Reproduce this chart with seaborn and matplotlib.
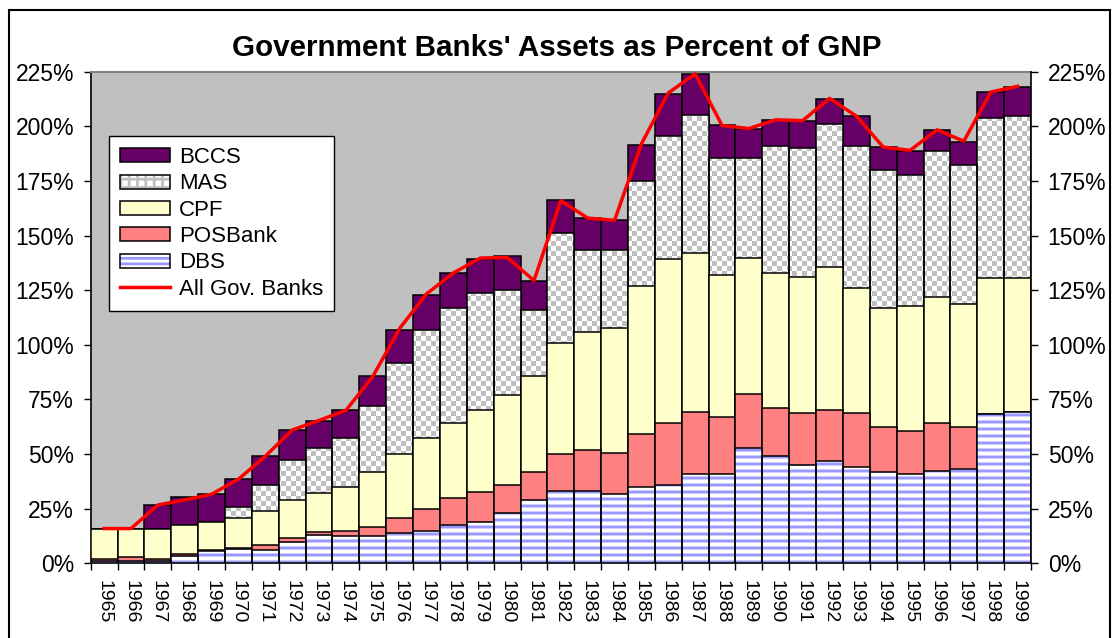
import numpy as np
import seaborn as sns
import matplotlib.pyplot as plt
from matplotlib.patches import Patch, PathPatch, Rectangle
from matplotlib.lines import Line2D
from matplotlib.path import Path
from matplotlib.legend_handler import HandlerTuple

plt.rcParams['font.family'] = ['Liberation Sans', 'DejaVu Sans']
plt.rcParams['hatch.linewidth'] = 2.0

years = [str(y) for y in range(1965, 2000)]

# percent of GNP
dbs = [1.0, 1.0, 1.0, 3.5, 5.4, 6.6, 6.3, 9.8, 13.0, 12.5, 12.5, 13.7, 14.7, 17.3, 19.1, 23.2, 29.0, 33.2,
       33.2, 31.6, 34.7, 35.7, 40.8, 40.8, 52.6, 49.2, 44.9, 46.9, 44.3, 41.6, 40.8, 42.3, 43.1, 68.3, 69.1]
posbank = [1.0, 1.8, 0.8, 0.9, 0.5, 0.6, 2.1, 1.8, 1.2, 2.3, 4.3, 7.2, 10.0, 12.8, 13.4, 12.7, 12.6, 16.8,
           18.7, 19.1, 24.4, 28.5, 28.6, 26.0, 24.9, 21.7, 23.7, 23.4, 24.3, 20.9, 19.8, 21.9, 19.4, 0, 0]
cpf = [13.9, 13.1, 13.8, 13.0, 13.0, 13.4, 15.7, 17.4, 18.2, 20.2, 24.8, 29.1, 32.7, 34.3, 37.5, 40.9, 44.2,
       50.8, 54.1, 56.9, 67.7, 75.1, 72.5, 65.2, 62.1, 61.9, 62.6, 65.1, 57.4, 54.5, 57.2, 57.9, 56.2, 62.1, 61.3]
mas = [0, 0, 0, 0, 0, 5.2, 11.6, 18.4, 20.2, 22.3, 30.2, 41.7, 49.4, 52.5, 53.6, 48.3, 30.1, 50.2, 37.6,
       36.0, 48.4, 56.1, 63.4, 53.5, 45.9, 58.3, 59.0, 65.8, 65.0, 63.1, 60.0, 66.4, 63.4, 73.4, 74.2]
bccs = [0, 0, 11.1, 13.0, 12.7, 12.7, 13.6, 13.6, 12.5, 12.8, 14.1, 15.2, 16.0, 16.0, 15.7, 15.5, 13.5, 15.4,
        14.4, 13.4, 16.4, 19.5, 18.8, 15.2, 13.4, 11.9, 12.1, 11.3, 13.7, 10.4, 10.9, 9.6, 10.7, 11.9, 13.4]
all_gov = [15.9, 15.9, 26.7, 29.0, 31.6, 38.5, 49.0, 61.0, 65.4, 70.0, 85.5, 107.5, 123.3, 132.9, 139.7,
           140.0, 129.4, 166.0, 158.0, 157.0, 192.0, 215.3, 224.0, 200.4, 199.0, 203.0, 202.6, 212.8,
           204.7, 190.5, 189.0, 198.4, 193.2, 215.7, 218.3]

c_bccs = '#660066'
c_cpf = '#ffffcc'
c_pos = '#ff8080'
c_dbs = '#9999ff'
c_mas = '#c0c0c0'

# stacked tops
top_dbs = np.array(dbs)
top_pos = top_dbs + np.array(posbank)
top_cpf = top_pos + np.array(cpf)
top_mas = top_cpf + np.array(mas)
top_bccs = top_mas + np.array(bccs)

fig = plt.figure(figsize=(11.14, 6.38), dpi=100)
ax = fig.add_axes([0.0814, 0.1171, 0.8441, 0.7705])
ax.set_facecolor('#c0c0c0')

n = len(years)
ymax = 225


def bars(values, color, z):
    before = len(ax.patches)
    sns.barplot(x=years, y=values, color=color, saturation=1, width=1, edgecolor='black',
                linewidth=1.1, zorder=z, errorbar=None, ax=ax)
    return ax.patches[before:]


def clip_for(patches):
    paths = [p.get_path().transformed(p.get_patch_transform()) for p in patches]
    return PathPatch(Path.make_compound_path(*paths), transform=ax.transData,
                     facecolor='none', edgecolor='none')


bars(top_bccs, c_bccs, 2)
mas_p = bars(top_mas, 'white', 3)
for p in mas_p:
    p.set_facecolor('none')
bars(top_cpf, c_cpf, 4)
bars(top_pos, c_pos, 5)
dbs_p = bars(top_dbs, 'white', 6)
for p in dbs_p:
    p.set_facecolor('none')

ax.set_xlim(-0.5, n - 0.5)
ax.set_ylim(0, ymax)

# pixel patterns for MAS (checker) and DBS (stripes)
bb = ax.get_window_extent(fig.canvas.get_renderer())
w, h = int(round(bb.width)), int(round(bb.height))
yy, xx = np.mgrid[0:h, 0:w]
checker = np.ones((h, w, 3))
checker[((xx // 5 + yy // 5) % 2) == 0] = 0.75
stripes = np.ones((h, w, 3))
blue = np.array([0.6, 0.6, 1.0])
light = np.array([0.8, 0.8, 1.0])
ph = yy % 7
stripes[(ph == 0) | (ph == 1)] = blue
stripes[(ph == 2) | (ph == 6)] = light

im1 = ax.imshow(checker, extent=(-0.5, n - 0.5, 0, ymax), aspect='auto', interpolation='nearest', zorder=2.5)
im1.set_clip_path(clip_for(mas_p))
im2 = ax.imshow(stripes, extent=(-0.5, n - 0.5, 0, ymax), aspect='auto', interpolation='nearest', zorder=5.5)
im2.set_clip_path(clip_for(dbs_p))

sns.lineplot(x=np.arange(n), y=all_gov, color='#ff0000', linewidth=2.5, zorder=7, ax=ax)

ax.set_xlim(-0.5, n - 0.5)
ax.set_ylim(0, ymax)
yt = list(range(0, 226, 25))
ylab = [f'{v}%' for v in yt]
ax.set_yticks(yt)
ax.set_yticklabels(ylab, fontsize=16.5)
ax.set_xticks(range(n))
ax.set_xticklabels(years, rotation=-90, fontsize=14)
ax.set_xticks(np.arange(-0.5, n, 1), minor=True)
ax.tick_params(axis='x', which='major', length=0, pad=12)
ax.tick_params(axis='x', which='minor', length=5, width=1, color='black', direction='out')
ax.tick_params(axis='y', length=5, width=1, color='black', direction='out', pad=7)
ax.set_xlabel('')
ax.set_ylabel('')
ax.grid(False)
for s in ['left', 'bottom']:
    ax.spines[s].set_color('black')
    ax.spines[s].set_linewidth(1.2)
ax.spines['top'].set_color('#808080')
ax.spines['top'].set_linewidth(1.5)
ax.spines['right'].set_visible(False)

ax2 = ax.twinx()
ax2.set_ylim(0, ymax)
ax2.set_yticks(yt)
ax2.set_yticklabels(ylab, fontsize=16.5)
ax2.tick_params(axis='y', length=5, width=1, color='black', direction='out', pad=7)
for s in ['left', 'bottom', 'top']:
    ax2.spines[s].set_visible(False)
ax2.spines['right'].set_color('black')
ax2.spines['right'].set_linewidth(1.2)

handles = [
    Patch(facecolor=c_bccs, edgecolor='black', linewidth=1.1),
    (Patch(facecolor='white', edgecolor=c_mas, hatch='++', linewidth=0),
     Patch(facecolor='none', edgecolor='black', linewidth=1.1)),
    Patch(facecolor=c_cpf, edgecolor='black', linewidth=1.1),
    Patch(facecolor=c_pos, edgecolor='black', linewidth=1.1),
    (Patch(facecolor='white', edgecolor=c_dbs, hatch='---', linewidth=0),
     Patch(facecolor='none', edgecolor='black', linewidth=1.1)),
    Line2D([], [], color='#ff0000', linewidth=2.5),
]
labels = ['BCCS', 'MAS', 'CPF', 'POSBank', 'DBS', 'All Gov. Banks']
leg = ax.legend(handles, labels, loc='upper left', bbox_to_anchor=(109 / 1114, 1 - 136 / 638),
                bbox_transform=fig.transFigure, borderaxespad=0, fontsize=16, frameon=True,
                fancybox=False, shadow=False, edgecolor='black', framealpha=1,
                handlelength=2.25, handleheight=0.6, handletextpad=0.4, labelspacing=0.24,
                borderpad=0.5, handler_map={tuple: HandlerTuple(ndivide=1)})
leg.get_frame().set_linewidth(1.0)
leg.set_zorder(10)

fig.text(0.5, 1 - 48 / 638, "Government Banks' Assets as Percent of GNP", ha='center', va='center',
         fontsize=21.3, fontweight='bold')

fig.patches.append(Rectangle((9 / 1114, -0.02), (1110 - 9) / 1114, 1 - 10 / 638 + 0.02,
                             transform=fig.transFigure, fill=False, edgecolor='black', linewidth=1.5))

fig.savefig('out.png', dpi=100)
